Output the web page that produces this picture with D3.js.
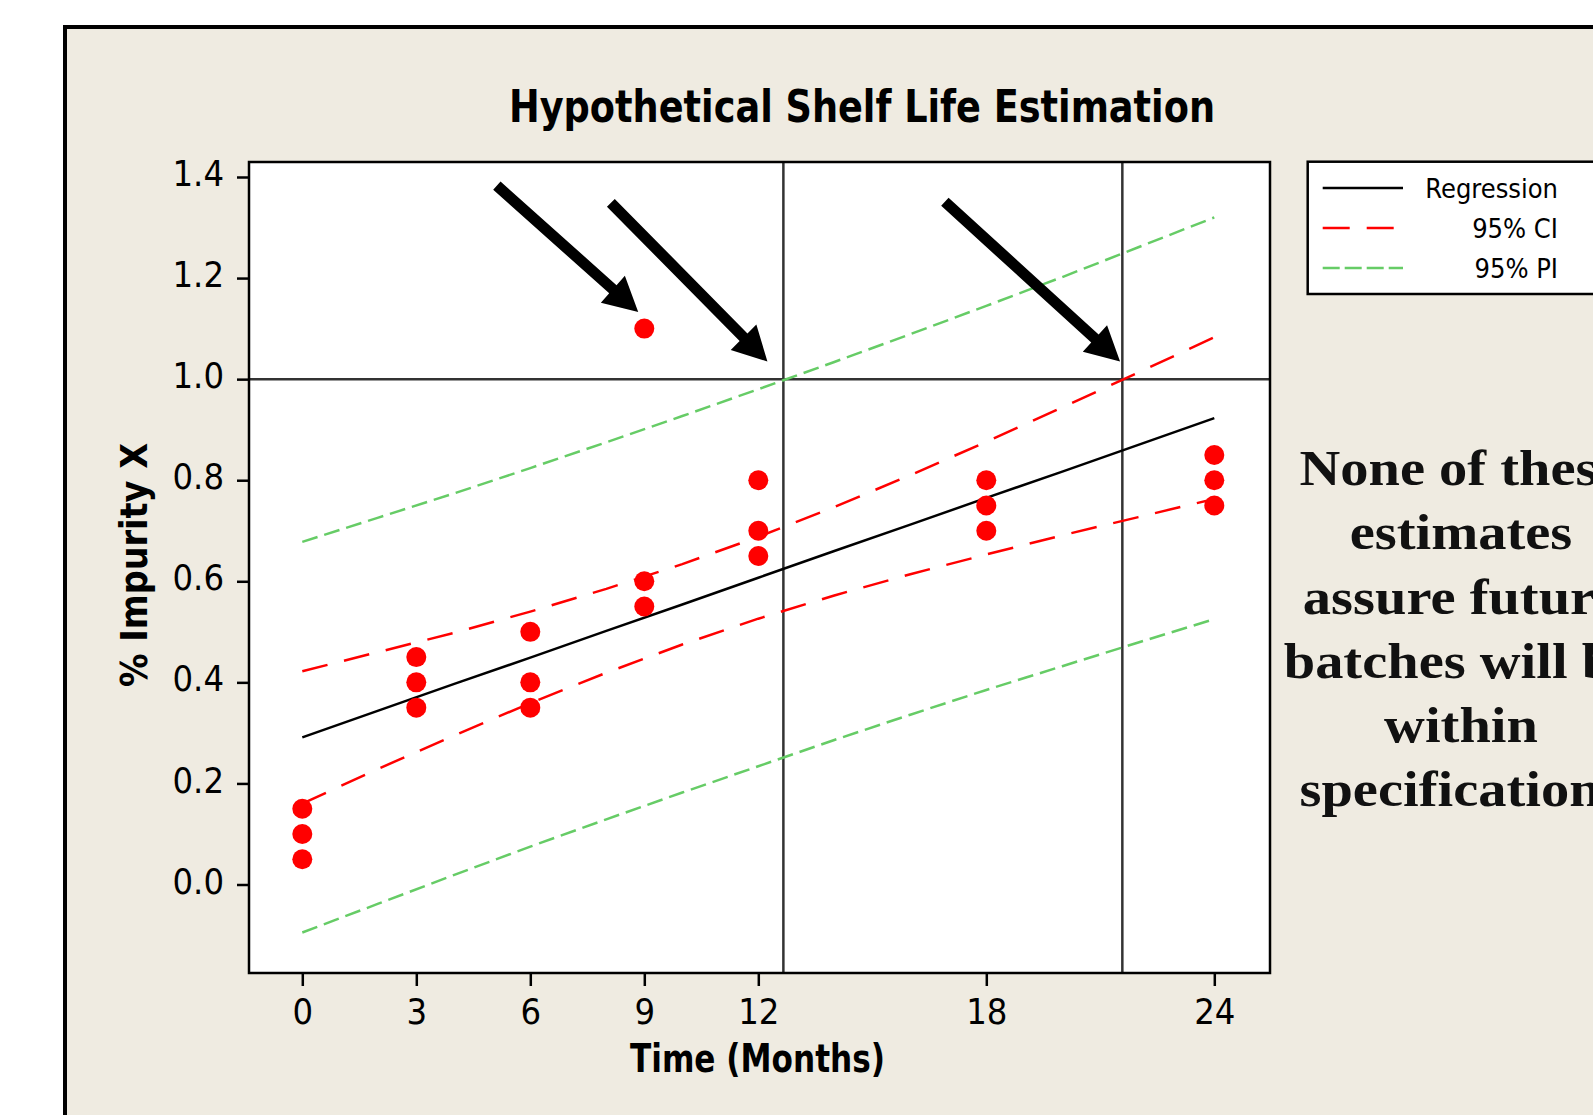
<!DOCTYPE html>
<html lang="en">
<head>
<meta charset="UTF-8">
<title>Hypothetical Shelf Life Estimation</title>
<script src="https://d3js.org/d3.v7.min.js"></script>
<style>
  body { margin: 0; background: #fff; overflow: hidden; }
  svg { display: block; }
</style>
</head>
<body>
<svg id="chart" width="1593" height="1115"></svg>
<script>
// observed impurity per batch / time point
const pointMonths   = [0, 0, 0, 3, 3, 3, 6, 6, 6, 9, 9, 9, 12, 12, 12, 18, 18, 18, 24, 24, 24];
const pointImpurity = [0.05, 0.10, 0.15, 0.35, 0.40, 0.45, 0.35, 0.40, 0.50, 0.55, 0.60, 1.10,
                       0.65, 0.70, 0.80, 0.70, 0.75, 0.80, 0.75, 0.80, 0.85];

// fitted line and bands
const fitMonths = [0, 2, 4, 6, 8, 10, 12, 14, 16, 18, 20, 22, 24];
const fitLine   = [0.291, 0.344, 0.397, 0.449, 0.502, 0.554, 0.607, 0.660, 0.712, 0.765, 0.817, 0.870, 0.923];
const ciLower   = [0.160, 0.229, 0.295, 0.359, 0.419, 0.475, 0.526, 0.572, 0.614, 0.653, 0.691, 0.727, 0.763];
const ciUpper   = [0.422, 0.460, 0.498, 0.540, 0.585, 0.634, 0.688, 0.747, 0.810, 0.876, 0.944, 1.013, 1.083];
const piLower   = [-0.095, -0.038, 0.019, 0.075, 0.129, 0.182, 0.234, 0.286, 0.336, 0.385, 0.432, 0.479, 0.525];
const piUpper   = [0.678, 0.726, 0.774, 0.824, 0.875, 0.927, 0.980, 1.034, 1.089, 1.145, 1.202, 1.261, 1.320];

const xTicks = [0, 3, 6, 9, 12, 18, 24];
const yTicks = [0.0, 0.2, 0.4, 0.6, 0.8, 1.0, 1.2, 1.4];

const specLimit = 1.0;
const crossMonths = [12.66, 21.58];

// arrows (month, impurity) from -> to
const arrowFrom = [[5.12, 1.383], [8.12, 1.349], [16.91, 1.351]];
const arrowTo   = [[8.84, 1.133], [12.24, 1.035], [21.52, 1.035]];

const legendNames = ["Regression", "95% CI", "95% PI"];
const noteLines = ["None of these", "estimates", "assure future", "batches will be", "within", "specifications"];

const sans = "Tahoma, 'DejaVu Sans Condensed', 'Noto Sans', sans-serif";
const serif = "'Palatino Linotype', 'Book Antiqua', 'Liberation Serif', serif";
const red = "#ff0000", green = "#66cc66";

const svg = d3.select("#chart");

// outer frame
svg.append("rect")
    .attr("x", 65).attr("y", 27)
    .attr("width", 1700).attr("height", 1200)
    .attr("fill", "#efebe1")
    .attr("stroke", "#000").attr("stroke-width", 4);

const box = { left: 249, top: 162, right: 1270, bottom: 973 };

const x = d3.scaleLinear().domain([0, 24]).range([302.3, 1214.3]);
const y = d3.scaleLinear().domain([0, 1.4]).range([884.5, 177]);

svg.append("rect")
    .attr("x", box.left).attr("y", box.top)
    .attr("width", box.right - box.left).attr("height", box.bottom - box.top)
    .attr("fill", "#fff");

// reference lines
svg.append("line")
    .attr("x1", box.left).attr("x2", box.right)
    .attr("y1", y(specLimit)).attr("y2", y(specLimit))
    .attr("stroke", "#333").attr("stroke-width", 2.5);

svg.selectAll(".cross")
    .data(crossMonths)
    .enter()
    .append("line")
    .attr("class", "cross")
    .attr("x1", d => x(d)).attr("x2", d => x(d))
    .attr("y1", box.top).attr("y2", box.bottom)
    .attr("stroke", "#333").attr("stroke-width", 2.5);

// bands and fit
const line = d3.line().x(d => x(d[0])).y(d => y(d[1]));
const series = [
    { vals: piLower, color: green, dash: "16,7" },
    { vals: piUpper, color: green, dash: "16,7" },
    { vals: ciLower, color: red, dash: "26,17" },
    { vals: ciUpper, color: red, dash: "26,17" },
    { vals: fitLine, color: "#000", dash: null }
];
series.forEach(s => {
    svg.append("path")
        .datum(fitMonths.map((m, i) => [m, s.vals[i]]))
        .attr("d", line)
        .attr("fill", "none")
        .attr("stroke", s.color)
        .attr("stroke-width", 2.5)
        .attr("stroke-dasharray", s.dash);
});

// observations
svg.selectAll(".pt")
    .data(pointMonths.map((m, i) => [m, pointImpurity[i]]))
    .enter()
    .append("circle")
    .attr("class", "pt")
    .attr("cx", d => x(d[0]))
    .attr("cy", d => y(d[1]))
    .attr("r", 10)
    .attr("fill", red);

// arrows
function arrowPath(from, to) {
    const x0 = x(from[0]), y0 = y(from[1]), x1 = x(to[0]), y1 = y(to[1]);
    const len = Math.hypot(x1 - x0, y1 - y0);
    const ux = (x1 - x0) / len, uy = (y1 - y0) / len;
    const nx = -uy, ny = ux;
    const shaft = 5.5, head = 18, headLen = 34;
    const bx = x1 - ux * headLen, by = y1 - uy * headLen;
    const p = [
        [x0 + nx * shaft, y0 + ny * shaft],
        [bx + nx * shaft, by + ny * shaft],
        [bx + nx * head, by + ny * head],
        [x1, y1],
        [bx - nx * head, by - ny * head],
        [bx - nx * shaft, by - ny * shaft],
        [x0 - nx * shaft, y0 - ny * shaft]
    ];
    return "M" + p.map(q => q.join(",")).join("L") + "Z";
}
svg.selectAll(".arrow")
    .data(arrowFrom.map((f, i) => [f, arrowTo[i]]))
    .enter()
    .append("path")
    .attr("class", "arrow")
    .attr("d", d => arrowPath(d[0], d[1]))
    .attr("fill", "#000");

// plot border
svg.append("rect")
    .attr("x", box.left).attr("y", box.top)
    .attr("width", box.right - box.left).attr("height", box.bottom - box.top)
    .attr("fill", "none")
    .attr("stroke", "#000").attr("stroke-width", 2.5);

// axes
const yAxis = svg.append("g")
    .attr("transform", `translate(${box.left},0)`)
    .call(d3.axisLeft(y).tickValues(yTicks).tickFormat(d3.format(".1f")).tickSize(12).tickPadding(13));
const xAxis = svg.append("g")
    .attr("transform", `translate(0,${box.bottom})`)
    .call(d3.axisBottom(x).tickValues(xTicks).tickFormat(d3.format("d")).tickSize(13).tickPadding(12));
[yAxis, xAxis].forEach(a => {
    a.select(".domain").remove();
    a.attr("font-family", sans).attr("font-size", 36);
    a.selectAll(".tick line").attr("stroke", "#000").attr("stroke-width", 2.5);
    a.selectAll(".tick text").attr("fill", "#000");
});
yAxis.selectAll(".tick text").attr("dy", "0.24em");

// titles
svg.append("text")
    .attr("x", 862).attr("y", 121.7)
    .attr("text-anchor", "middle")
    .attr("font-family", sans).attr("font-weight", "bold").attr("font-size", 45)
    .attr("textLength", 706).attr("lengthAdjust", "spacingAndGlyphs")
    .text("Hypothetical Shelf Life Estimation");

svg.append("text")
    .attr("x", 757.5).attr("y", 1071.7)
    .attr("text-anchor", "middle")
    .attr("font-family", sans).attr("font-weight", "bold").attr("font-size", 39)
    .attr("textLength", 255).attr("lengthAdjust", "spacingAndGlyphs")
    .text("Time (Months)");

svg.append("text")
    .attr("transform", "translate(147,565) rotate(-90)")
    .attr("text-anchor", "middle")
    .attr("font-family", sans).attr("font-weight", "bold").attr("font-size", 37)
    .attr("textLength", 244).attr("lengthAdjust", "spacingAndGlyphs")
    .text("% Impurity X");

// legend
const legend = svg.append("g");
legend.append("rect")
    .attr("x", 1307.7).attr("y", 161.7)
    .attr("width", 400).attr("height", 132.3)
    .attr("fill", "#fff")
    .attr("stroke", "#000").attr("stroke-width", 2.5);
const legendStyle = [
    { color: "#000", dash: null },
    { color: red, dash: "27,17" },
    { color: green, dash: "17,5" }
];
legendNames.forEach((name, i) => {
    const ly = 188 + i * 40;
    legend.append("line")
        .attr("x1", 1322.7).attr("x2", 1403)
        .attr("y1", ly).attr("y2", ly)
        .attr("stroke", legendStyle[i].color)
        .attr("stroke-width", 2.5)
        .attr("stroke-dasharray", legendStyle[i].dash);
    legend.append("text")
        .attr("x", 1558).attr("y", ly + 10)
        .attr("text-anchor", "end")
        .attr("font-family", sans).attr("font-size", 27)
        .text(name);
});

// note on the right (runs off the page edge, as in the original slide)
const note = svg.append("g")
    .attr("transform", "translate(1461,0) scale(1.13,1)");
note.selectAll("text")
    .data(noteLines)
    .enter()
    .append("text")
    .attr("x", 0)
    .attr("y", (d, i) => 485 + i * 64.3)
    .attr("text-anchor", "middle")
    .attr("font-family", serif).attr("font-weight", "bold").attr("font-size", 50)
    .attr("fill", "#111")
    .text(d => d);
</script>
</body>
</html>
